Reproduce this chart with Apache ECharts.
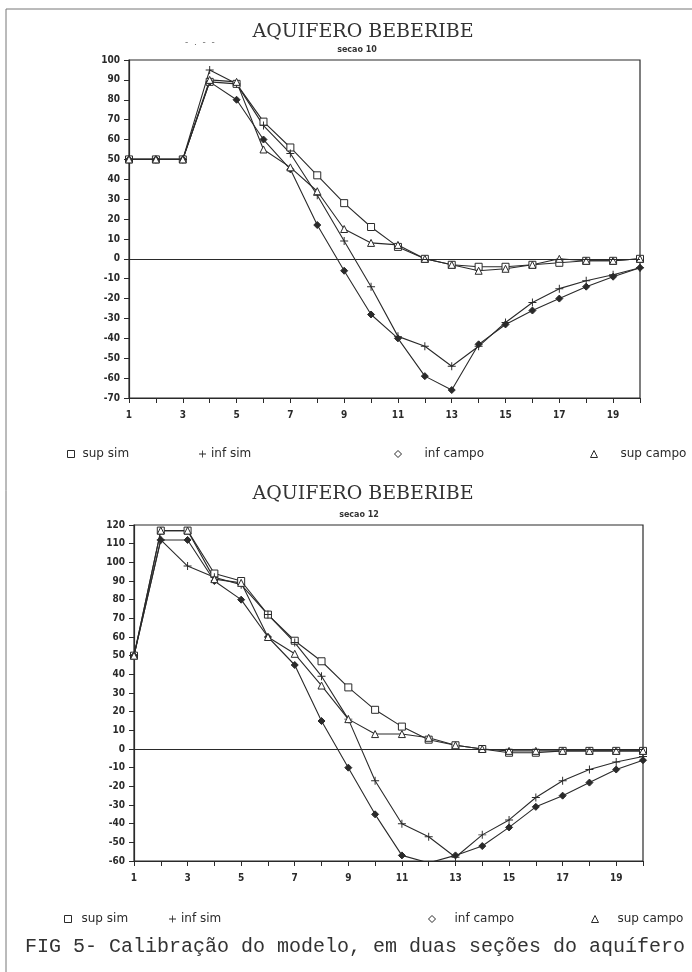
<!DOCTYPE html>
<html><head><meta charset="utf-8">
<script src="https://cdn.jsdelivr.net/npm/echarts@6/dist/echarts.min.js"></script>
<style>html,body{margin:0;padding:0;background:#fff}#c{width:692px;height:972px}</style>
</head><body><div id="c"></div>
<script>
var xs = [1,2,3,4,5,6,7,8,9,10,11,12,13,14,15,16,17,18,19,20];
var xTickLabels = ['1','3','5','7','9','11','13','15','17','19'];
var seriesNames = ['sup sim','inf sim','inf campo','sup campo'];

var top_title = 'AQUIFERO BEBERIBE';
var top_sub = 'secao 10';
var top_supSim   = [50,50,50,89,88,69,56,42,28,16,6,0,-3,-4,-4,-3,-2,-1,-1,0];
var top_infSim   = [50,50,50,95,88,67,53,32,9,-14,-39,-44,-54,-44,-32,-22,-15,-11,-8,-4.5];
var top_infCampo = [50,50,50,89,80,60,45,17,-6,-28,-40,-59,-66,-43,-33,-26,-20,-14,-9,-4.5];
var top_supCampo = [50,50,50,90,89,55,46,34,15,8,7,0,-3,-6,-5,-3,0,-1,-1,0];

var bot_title = 'AQUIFERO BEBERIBE';
var bot_sub = 'secao 12';
var bot_supSim   = [50,117,117,94,90,72,58,47,33,21,12,5,2,0,-2,-2,-1,-1,-1,-1];
var bot_infSim   = [50,112,98,92,88,72,57,39,16,-17,-40,-47,-58,-46,-38,-26,-17,-11,-7,-4];
var bot_infCampo = [50,112,112,90,80,60,45,15,-10,-35,-57,-61,-57,-52,-42,-31,-25,-18,-11,-6];
var bot_supCampo = [50,117,117,91,89,60,51,34,16,8,8,6,2,0,-1,-1,-1,-1,-1,-1];

var caption = 'FIG 5- Calibração do modelo, em duas seções do aquífero';

var INK = '#2a2a2a';
var PLUS = 'path://M4.4,0h1.2v4.4h4.4v1.2h-4.4v4.4h-1.2v-4.4h-4.4v-1.2h4.4z';
function pairs(v){ return xs.map(function(x,i){ return [x, v[i]]; }); }
var symDefs = [
  {symbol:'rect', size:7, fill:'#fff'},
  {symbol:PLUS, size:8, fill:INK},
  {symbol:'diamond', size:7, fill:INK},
  {symbol:'triangle', size:7, fill:'#fff'}
];
function mkSeries(gi, arrs){
  return arrs.map(function(a, k){
    var s = {
      type:'line', name:seriesNames[k], xAxisIndex:gi, yAxisIndex:gi,
      data:pairs(a), symbol:symDefs[k].symbol, symbolSize:symDefs[k].size,
      showAllSymbol:true, animation:false,
      lineStyle:{color:INK, width:1.1},
      itemStyle:{color:symDefs[k].fill, borderColor:INK, borderWidth:k===1?0:1}
    };
    if(k===0){
      s.markLine = {silent:true, symbol:'none', animation:false, label:{show:false},
        lineStyle:{color:INK, type:'solid', width:1.2}, data:[{yAxis:0}]};
    }
    return s;
  });
}
function xAx(gi){
  return {type:'value', gridIndex:gi, min:1, max:20, interval:1,
    axisLine:{show:true, onZero:false, lineStyle:{color:INK, width:1.2}},
    axisTick:{show:true, length:5, lineStyle:{color:INK}},
    splitLine:{show:false},
    axisLabel:{margin:12, color:INK, fontSize:10, fontWeight:'bold', fontFamily:'DejaVu Sans Condensed',
      formatter:function(v){ var s=String(v); return xTickLabels.indexOf(s)>=0 ? s : ''; }}};
}
function yAx(gi, mn, mx){
  return {type:'value', gridIndex:gi, min:mn, max:mx, interval:10,
    axisLine:{show:true, onZero:false, lineStyle:{color:INK, width:1.2}},
    axisTick:{show:true, length:5, lineStyle:{color:INK}},
    splitLine:{show:false},
    axisLabel:{margin:9, color:INK, fontSize:10, fontWeight:'bold', fontFamily:'DejaVu Sans Condensed'}};
}
var legIcons = [
  {icon:'rect', itemStyle:{color:'#fff', borderColor:INK, borderWidth:1}},
  {icon:PLUS, itemStyle:{color:INK, borderWidth:0}},
  {icon:'diamond', itemStyle:{color:'#fff', borderColor:INK, borderWidth:1}},
  {icon:'triangle', itemStyle:{color:'#fff', borderColor:INK, borderWidth:1}}
];
function mkLegends(top, lefts, pads){
  return seriesNames.map(function(n,k){
    var d = Object.assign({name:n}, legIcons[k]);
    return {data:[d], left:lefts[k], top:top, itemWidth:7, itemHeight:7, selectedMode:false,
      textStyle:{fontSize:12, color:INK, fontFamily:'DejaVu Sans', padding:[0,0,0,pads[k]]}};
  });
}
var option = {
  animation:false,
  backgroundColor:'#fff',
  title:[
    {text:top_title, left:358, top:18, textAlign:'center', textStyle:{fontFamily:'DejaVu Serif', fontWeight:'normal', fontSize:19, color:'#333'}},
    {text:top_sub, left:352, top:41, textAlign:'center', textStyle:{fontFamily:'DejaVu Sans', fontWeight:'bold', fontSize:8, color:'#333'}},
    {text:bot_title, left:358, top:480, textAlign:'center', textStyle:{fontFamily:'DejaVu Serif', fontWeight:'normal', fontSize:19, color:'#333'}},
    {text:bot_sub, left:354, top:506, textAlign:'center', textStyle:{fontFamily:'DejaVu Sans', fontWeight:'bold', fontSize:8, color:'#333'}},
    {text:caption, left:20, top:932, textStyle:{fontFamily:'Liberation Mono', fontWeight:'normal', fontSize:20, color:'#333'}}
  ],
  grid:[
    {left:129, top:60, width:511, height:338, show:true, borderColor:INK, borderWidth:1.2, backgroundColor:'transparent'},
    {left:134, top:525, width:509, height:336, show:true, borderColor:INK, borderWidth:1.2, backgroundColor:'transparent'}
  ],
  xAxis:[xAx(0), xAx(1)],
  yAxis:[yAx(0,-70,100), yAx(1,-60,120)],
  legend: mkLegends(443, [62,194,389,585], [3,0,18,18]).concat(mkLegends(908, [59,164,423,586], [5,0,14,14])),
  series: mkSeries(0,[top_supSim, top_infSim, top_infCampo, top_supCampo])
    .concat(mkSeries(1,[bot_supSim, bot_infSim, bot_infCampo, bot_supCampo])),
  graphic:[
    {type:'polyline', shape:{points:[[692,9],[6,9],[6,972]]}, style:{stroke:'#777', lineWidth:1, fill:null}, silent:true},
    {type:'text', left:185, top:38, style:{text:'-  .  -  -', fill:'#666', font:'9px DejaVu Sans'}, silent:true}
  ]
};
var chart = echarts.init(document.getElementById('c'), null, {renderer:'canvas'});
chart.setOption(option);
</script></body></html>
